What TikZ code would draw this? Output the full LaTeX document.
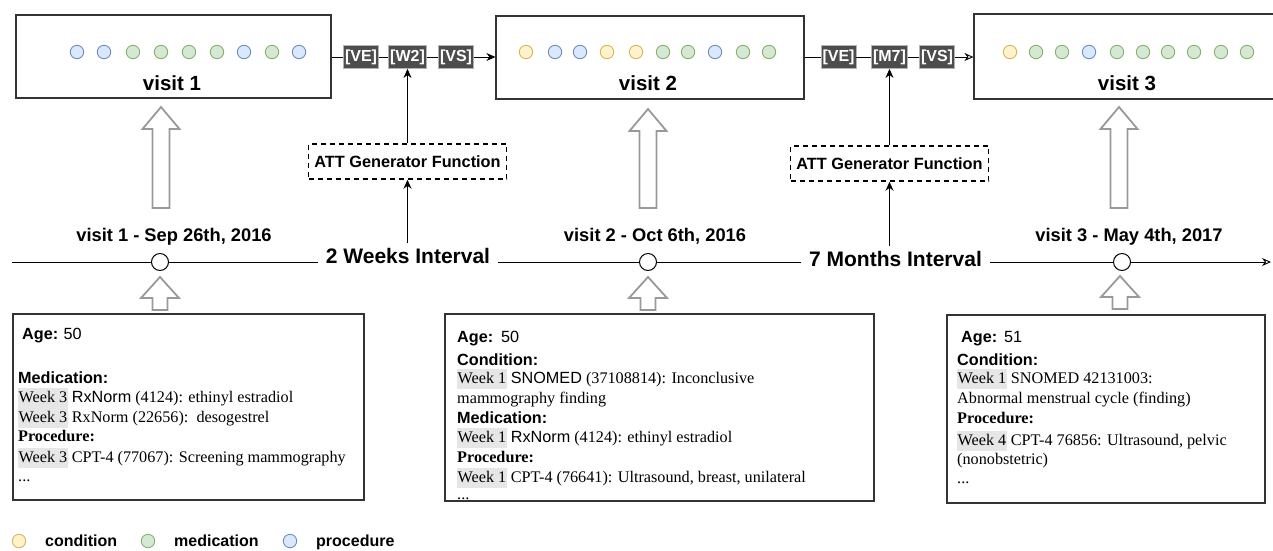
\documentclass[tikz,border=0pt]{standalone}
\usepackage{fontspec}
\setmainfont{Liberation Serif}
\setsansfont{Liberation Sans}
\usetikzlibrary{arrows.meta}

\definecolor{condF}{HTML}{FFF2CC}\definecolor{condD}{HTML}{D6B656}
\definecolor{medF}{HTML}{D5E8D4}\definecolor{medD}{HTML}{82B366}
\definecolor{procF}{HTML}{DAE8FC}\definecolor{procD}{HTML}{6C8EBF}
\definecolor{hl}{HTML}{E6E6E6}
\definecolor{tok}{HTML}{4D4D4D}
\definecolor{tokB}{HTML}{B3B3B3}
\definecolor{blk}{HTML}{999999}
\definecolor{edge}{HTML}{333333}

\newcommand\fs[1]{\fontsize{#1}{1.2\dimexpr#1pt\relax}\selectfont}
\newcommand\wk[1]{{\setlength\fboxsep{0.5pt}\colorbox{hl}{\strut#1}}}
\newcommand\SB[1]{{\sffamily\bfseries #1}}
\newcommand\SF[1]{{\sffamily #1}}
\newcommand\tl[4]{\node[txt] (#1) at (#2,#3) {#4};}
\newcommand\blockarrow[6]{\draw[blockar] (#1,#2) -- (#1+#5,#3) -- (#1+#6,#3) -- (#1+#6,#4) -- (#1-#6,#4) -- (#1-#6,#3) -- (#1-#5,#3) -- cycle;}

\tikzset{
  visitbox/.style={draw=edge, line width=1.2pt, fill=white, minimum height=83pt, inner sep=0},
  dot/.style={circle, minimum size=13.4pt, inner sep=0, line width=0.9pt},
  c/.style={dot, draw=condD, fill=condF},
  m/.style={dot, draw=medD, fill=medF},
  p/.style={dot, draw=procD, fill=procF},
  vlabel/.style={font=\sffamily\bfseries\fs{20.5}},
  token/.style={fill=tok, draw=tokB, line width=0.8pt, text=white, font=\sffamily\bfseries\fs{16}, minimum height=23pt, inner xsep=1.5pt, inner ysep=0},
  conn/.style={line width=0.9pt, draw=black},
  att/.style={draw, dash pattern=on 5pt off 4pt, line width=1.5pt, font=\sffamily\bfseries\fs{16.3}, minimum width=198pt, minimum height=35pt, inner sep=0},
  tcirc/.style={circle, draw, fill=white, minimum size=17pt, inner sep=0, line width=1pt},
  datelabel/.style={font=\sffamily\bfseries\fs{18.3}},
  interval/.style={font=\sffamily\bfseries\fs{21}, inner xsep=8pt, inner ysep=5pt},
  blockar/.style={draw=blk, line width=1.8pt, fill=white, line join=miter},
  info/.style={draw=edge, line width=1.2pt, fill=white, inner sep=0},
  txt/.style={anchor=base west, inner sep=0, font=\fs{16.2}},
  leg/.style={anchor=base west, inner sep=0, font=\sffamily\bfseries\fs{16}},
}

\begin{document}
\begin{tikzpicture}[x=1pt, y=-1pt]
\path[use as bounding box] (0,0) rectangle (1273,550);
\clip (0,0) rectangle (1273,550);
\fill[white] (0,0) rectangle (1273,550);

% visit boxes
\node[visitbox, minimum width=315pt] (v1) at (173.5,56.5) {};
\node[visitbox, minimum width=308pt] (v2) at (650,57.5) {};
\node[visitbox, minimum width=326pt, minimum height=85pt] (v3) at (1137,56.5) {};

\foreach \x/\s [count=\i] in {77/p,104/p,133/m,161/m,189/m,217/m,244/p,272/m,299/p}
  \node[\s] (da\i) at (\x,52) {};
\foreach \x/\s [count=\i] in {526/c,555/p,580/p,607/c,636/c,663/m,688/m,715/p,743/m,769/m}
  \node[\s] (db\i) at (\x,52) {};
\foreach \x/\s [count=\i] in {1010/c,1036/m,1062/m,1089/p,1117/m,1143/m,1168/m,1194/m,1221/m,1247/m}
  \node[\s] (dc\i) at (\x,52) {};

\node[vlabel] (lv1) at (172,83) {visit 1};
\node[vlabel] (lv2) at (648,83) {visit 2};
\node[vlabel] (lv3) at (1127,83) {visit 3};

% tokens
\node[token] (ve1) at (361,57) {[VE]};
\node[token] (w2) at (407.5,57) {[W2]};
\node[token] (vs1) at (456,57) {[VS]};
\node[token] (ve2) at (838.5,57) {[VE]};
\node[token] (m7) at (889.5,57) {[M7]};
\node[token] (vs2) at (937,57) {[VS]};

\draw[conn] (v1.east |- ve1.west) -- (ve1.west);
\draw[conn] (ve1) -- (w2);
\draw[conn] (w2) -- (vs1);
\draw[conn, -{Stealth[length=9pt,width=8pt]}] (vs1.east) -- (v2.west |- vs1.east);
\draw[conn] (v2.east |- ve2.west) -- (ve2.west);
\draw[conn] (ve2) -- (m7);
\draw[conn] (m7) -- (vs2);
\draw[conn, -{Stealth[open,length=9pt,width=8pt]}] (vs2.east) -- (v3.west |- vs2.east);

% ATT generator
\node[att] (att1) at (407.5,161.5) {ATT Generator Function};
\node[att] (att2) at (889.5,163.5) {ATT Generator Function};
\draw[conn, -{Stealth[length=9pt,width=8pt]}] (att1.north) -- (w2.south);
\draw[conn, -{Stealth[length=9pt,width=8pt]}] (att2.north) -- (m7.south);

% timeline
\coordinate (tlS) at (12,262);
\coordinate (tlE) at (1271,262);
\node[tcirc] (c1) at (160,262) {};
\node[tcirc] (c2) at (648,262) {};
\node[tcirc] (c3) at (1122,262) {};
\node[interval] (int1) at (408,256) {2 Weeks Interval};
\node[interval] (int2) at (895.5,259) {7 Months Interval};
\draw[conn] (tlS) -- (c1);
\draw[conn] (c1) -- (c1 -| int1.west);
\draw[conn] (c2 -| int1.east) -- (c2);
\draw[conn] (c2) -- (c2 -| int2.west);
\draw[conn] (c3 -| int2.east) -- (c3);
\draw[conn, -{Stealth[open,length=9pt,width=8pt]}] (c3) -- (tlE);
\draw[conn, -{Stealth[length=9pt,width=8pt]}] (att1.south |- int1.north) -- (att1.south);
\draw[conn, -{Stealth[length=9pt,width=8pt]}] (att2.south |- int2.north) -- (att2.south);

\node[datelabel] (dl1) at (174,237) {visit 1 - Sep 26th, 2016};
\node[datelabel] (dl2) at (655,236) {visit 2 - Oct 6th, 2016};
\node[datelabel] (dl3) at (1129,237) {visit 3 - May 4th, 2017};

% block arrows
\blockarrow{161}{107}{129}{208}{18.5}{8.5}
\blockarrow{648}{109}{131}{208}{18.5}{8.5}
\blockarrow{1119}{107}{129}{208}{18.5}{8.5}
\blockarrow{160}{277}{298}{310}{19}{7.5}
\blockarrow{648}{277}{298}{310}{19}{7.5}
\blockarrow{1120}{276}{297}{309}{19}{7.5}

% info boxes
\node[info, minimum width=351pt, minimum height=186pt] (b1) at (188.5,407) {};
\node[info, minimum width=429pt, minimum height=187pt] (b2) at (659.5,407.5) {};
\node[info, minimum width=318pt, minimum height=188pt] (b3) at (1106,409) {};

\tl{a1}{22}{339}{\SB{Age:} \SF{50}}
\tl{a2}{18}{383}{\SB{Medication:}}
\tl{a3}{18}{402}{\wk{Week 3} \SF{RxNorm} (4124): ethinyl estradiol}
\tl{a4}{18}{422}{\wk{Week 3} RxNorm (22656):\ \ desogestrel}
\tl{a5}{18}{441}{\textbf{Procedure:}}
\tl{a6}{18}{462}{\wk{Week 3} CPT-4 (77067): Screening mammography}
\tl{a7}{18}{481}{...}

\tl{bb1}{457}{342}{\SB{Age:}\hspace{8pt}\SF{50}}
\tl{bb2}{457}{365}{\SB{Condition:}}
\tl{bb3}{457}{383}{\wk{Week 1} \SF{SNOMED} (37108814): Inconclusive}
\tl{bb4}{457}{403}{mammography finding}
\tl{bb5}{457}{423}{\SB{Medication:}}
\tl{bb6}{457}{442}{\wk{Week 1} \SF{RxNorm} (4124): ethinyl estradiol}
\tl{bb7}{457}{462}{\textbf{Procedure:}}
\tl{bb8}{457}{482}{\wk{Week 1} CPT-4 (76641): Ultrasound, breast, unilateral}
\tl{bb9}{457}{499}{...}

\tl{cc1}{961}{342}{\SB{Age:}\hspace{7pt}\SF{51}}
\tl{cc2}{957}{365}{\SB{Condition:}}
\tl{cc3}{957}{383}{\wk{Week 1} SNOMED 42131003:}
\tl{cc4}{957}{403}{Abnormal menstrual cycle (finding)}
\tl{cc5}{957}{423}{\textbf{Procedure:}}
\tl{cc6}{957}{445}{\wk{Week 4} CPT-4 76856: Ultrasound, pelvic}
\tl{cc7}{957}{464}{(nonobstetric)}
\tl{cc8}{957}{483}{...}

% legend
\node[c] (lc) at (19,541) {};
\node[m] (lm) at (148,541) {};
\node[p] (lp) at (290,541) {};
\node[leg] (tc) at (45,546) {condition};
\node[leg] (tm) at (174,546) {medication};
\node[leg] (tp) at (316,546) {procedure};
\end{tikzpicture}
\end{document}
